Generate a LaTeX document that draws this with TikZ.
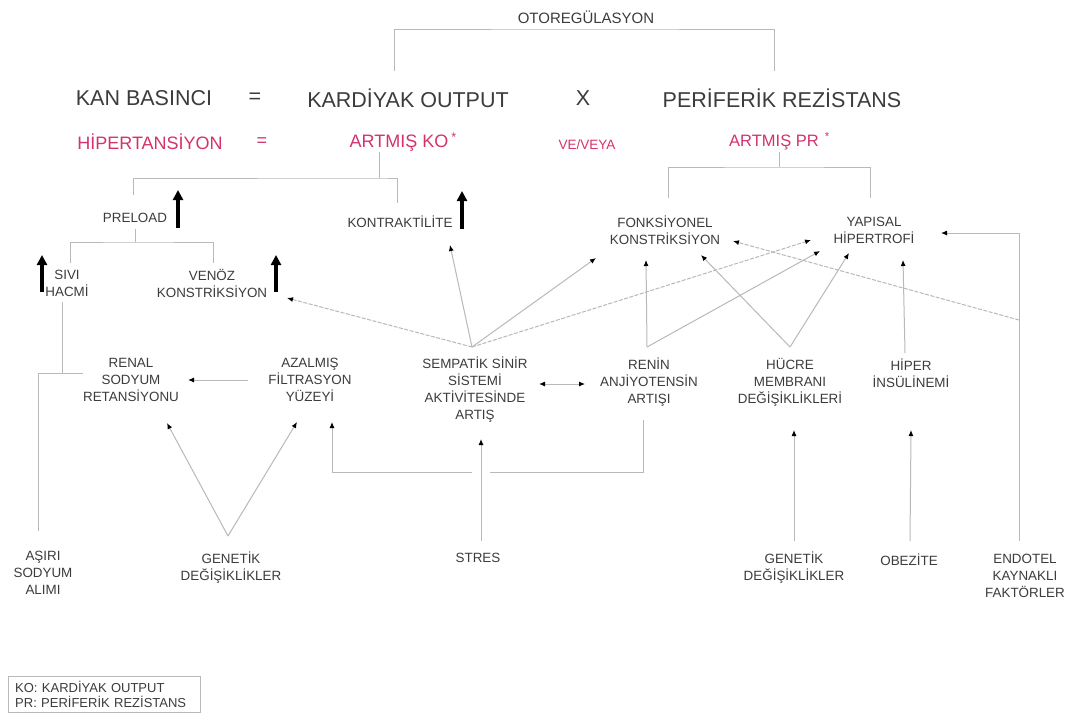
\documentclass[tikz,border=0pt]{standalone}
\usepackage{fontspec}
\setmainfont{Liberation Sans}
\usetikzlibrary{arrows.meta}

\definecolor{lineGray}{RGB}{185,185,185}
\definecolor{textGray}{RGB}{60,60,60}
\definecolor{pinkRed}{RGB}{212,50,110}

\begin{document}
\begin{tikzpicture}[x=1pt, y=-1pt]
\tikzstyle{bigStyle}=[font=\fontsize{21.5}{24}\selectfont, text=textGray, inner sep=0pt]
\tikzstyle{pinkStyle}=[font=\fontsize{18}{20}\selectfont, text=pinkRed, inner sep=0pt]
\tikzstyle{smallStyle}=[font=\fontsize{13.4}{17}\selectfont, text=textGray, align=center, inner sep=0pt]
\tikzstyle{lineStyle}=[draw=lineGray, line width=1pt]
\tikzstyle{arrowStyle}=[lineStyle, -{Latex[length=6pt, width=5pt, color=black]}]
\tikzstyle{dblStyle}=[lineStyle, {Latex[length=6pt, width=5pt, color=black]}-{Latex[length=6pt, width=5pt, color=black]}]
\tikzstyle{dashStyle}=[arrowStyle, dash pattern=on 4pt off 1.5pt]
\tikzstyle{upStyle}=[line width=4pt, -{Triangle[length=10pt, width=10pt]}]
\fill[white] (0,0) rectangle (1067,713);
\useasboundingbox (0,0) rectangle (1067,713);

\node[smallStyle, font=\fontsize{15}{17}\selectfont] (oto) at (586,17) {OTOREGÜLASYON};
\node[bigStyle] (kan) at (144,98) {KAN BASINCI};
\node[bigStyle] (eqA) at (255,98) {=};
\node[bigStyle] (ko) at (408,98) {KARDİYAK OUTPUT};
\node[bigStyle] (carp) at (583,98) {X};
\node[bigStyle] (pr) at (782,98) {PERİFERİK REZİSTANS};
\node[pinkStyle] (hip) at (150,142) {HİPERTANSİYON};
\node[pinkStyle] (eqB) at (262,142) {=};
\node[pinkStyle] (artKO) at (399,142) {ARTMIŞ KO\rlap{\,\textsuperscript{*}}};
\node[pinkStyle, font=\fontsize{13.5}{15}\selectfont] (veya) at (587,145) {VE/VEYA};
\node[pinkStyle, font=\fontsize{16.5}{18}\selectfont] (artPR) at (774,141) {ARTMIŞ PR\rlap{\hspace{6pt}\textsuperscript{*}}};

\node[smallStyle] (preload) at (135,218) {PRELOAD};
\node[smallStyle] (kontr) at (400,222) {KONTRAKTİLİTE};
\node[smallStyle] (sivi) at (67,283) {SIVI\\HACMİ};
\node[smallStyle] (venoz) at (212,283) {VENÖZ\\KONSTRİKSİYON};
\node[smallStyle] (fonk) at (665,230) {FONKSİYONEL\\KONSTRİKSİYON};
\node[smallStyle] (yap) at (874,230) {YAPISAL\\HİPERTROFİ};
\node[smallStyle] (renal) at (131,380) {RENAL\\SODYUM\\RETANSİYONU};
\node[smallStyle] (azal) at (310,380) {AZALMIŞ\\FİLTRASYON\\YÜZEYİ};
\node[smallStyle] (symp) at (475,390) {SEMPATİK SİNİR\\SİSTEMİ\\AKTİVİTESİNDE\\ARTIŞ};
\node[smallStyle] (renin) at (649,382) {RENİN\\ANJİYOTENSİN\\ARTIŞI};
\node[smallStyle] (hucre) at (790,382) {HÜCRE\\MEMBRANI\\DEĞİŞİKLİKLERİ};
\node[smallStyle] (hiper) at (911,373) {HİPER\\İNSÜLİNEMİ};
\node[smallStyle] (asiri) at (43,573) {AŞIRI\\SODYUM\\ALIMI};
\node[smallStyle] (genA) at (231,568) {GENETİK\\DEĞİŞİKLİKLER};
\node[smallStyle] (stres) at (478,558) {STRES};
\node[smallStyle] (genB) at (794,568) {GENETİK\\DEĞİŞİKLİKLER};
\node[smallStyle] (obez) at (909,560) {OBEZİTE};
\node[smallStyle] (endo) at (1025,576) {ENDOTEL\\KAYNAKLI\\FAKTÖRLER};
\node[smallStyle, font=\fontsize{13}{15}\selectfont, draw=lineGray, align=left, anchor=north west,
  text width=178pt, inner xsep=7pt, minimum height=36pt] (legend) at (8,676)
  {KO: KARDİYAK OUTPUT\\PR: PERİFERİK REZİSTANS};

\draw[upStyle] ([shift={(43,10)}]preload.center) -- ([shift={(43,-28)}]preload.center);
\draw[upStyle] ([shift={(62,7)}]kontr.center) -- ([shift={(62,-31)}]kontr.center);
\draw[upStyle] ([shift={(-25,9)}]sivi.center) -- ([shift={(-25,-28)}]sivi.center);
\draw[upStyle] ([shift={(64,9)}]venoz.center) -- ([shift={(64,-28)}]venoz.center);

\coordinate (otoJ) at ([shift={(0,12)}]oto.center);
\draw[lineStyle] ([shift={(-14,-27)}]ko.center) |- (otoJ) -| ([shift={(-8,-27)}]pr.center);

\coordinate (koJ) at ([shift={(-20,36)}]artKO.center);
\draw[lineStyle] ([shift={(-20,10)}]artKO.center) -- (koJ);
\draw[lineStyle] ([shift={(-2,-23)}]preload.center) |- (koJ) -| ([shift={(-3,-19)}]kontr.center);
\coordinate (plJ) at ([shift={(0,24)}]preload.center);
\draw[lineStyle] ([shift={(0,11)}]preload.center) -- (plJ);
\draw[lineStyle] ([shift={(3,-20)}]sivi.center) |- (plJ) -| ([shift={(1,-20)}]venoz.center);

\coordinate (prJ) at ([shift={(5,26)}]artPR.center);
\draw[lineStyle] ([shift={(5,11)}]artPR.center) -- (prJ);
\draw[lineStyle] ([shift={(3,-32)}]fonk.center) |- (prJ) -| ([shift={(-4,-32)}]yap.center);

\coordinate (sivJ) at ([shift={(-5,90)}]sivi.center);
\draw[lineStyle] ([shift={(-5,19)}]sivi.center) -- (sivJ);
\draw[lineStyle] ([shift={(-5,-42)}]asiri.center) |- ([shift={(-48,-7)}]renal.center);
\draw[arrowStyle] ([shift={(-62,0)}]azal.center) -- ([shift={(57,0)}]renal.center);

\coordinate (genAJ) at ([shift={(-3,-32)}]genA.center);
\draw[arrowStyle] (genAJ) -- ([shift={(36,43)}]renal.center);
\draw[arrowStyle] (genAJ) -- ([shift={(-13,42)}]azal.center);

\coordinate (reninJ) at ([shift={(-6,90)}]renin.center);
\draw[arrowStyle] ([shift={(-6,38)}]renin.center) -- (reninJ) -| ([shift={(22,42)}]azal.center);
\draw[arrowStyle, preaction={draw=white, line width=18pt, -, shorten <=55pt, shorten >=20pt}]
  ([shift={(3,-17)}]stres.center) -- ([shift={(6,49)}]symp.center);
\draw[dblStyle] ([shift={(64,-6)}]symp.center) -- ([shift={(-64,2)}]renin.center);

\coordinate (sympJ) at ([shift={(-3,-43)}]symp.center);
\draw[arrowStyle] (sympJ) -- ([shift={(50,23)}]kontr.center);
\draw[arrowStyle] (sympJ) -- ([shift={(-69,28)}]fonk.center);
\draw[dashStyle] (sympJ) -- ([shift={(-63,10)}]yap.center);
\draw[dashStyle] (sympJ) -- ([shift={(75,15)}]venoz.center);

\coordinate (reninT) at ([shift={(-2,-35)}]renin.center);
\draw[arrowStyle] (reninT) -- ([shift={(-19,30)}]fonk.center);
\draw[arrowStyle] (reninT) -- ([shift={(-54,21)}]yap.center);
\coordinate (hucreT) at ([shift={(0,-35)}]hucre.center);
\draw[arrowStyle] (hucreT) -- ([shift={(36,25)}]fonk.center);
\draw[arrowStyle] (hucreT) -- ([shift={(-25,23)}]yap.center);
\draw[arrowStyle] ([shift={(-6,-20)}]hiper.center) -- ([shift={(29,30)}]yap.center);

\draw[arrowStyle] ([shift={(0,-27)}]genB.center) -- ([shift={(4,48)}]hucre.center);
\draw[arrowStyle] ([shift={(1,-19)}]obez.center) -- ([shift={(0,57)}]hiper.center);
\draw[arrowStyle] ([shift={(-6,-35)}]endo.center) |- ([shift={(67,3)}]yap.center);
\coordinate (endoJ) at ([shift={(-6,-256)}]endo.center);
\draw[dashStyle] (endoJ) -- ([shift={(68,11)}]fonk.center);
\end{tikzpicture}
\end{document}
